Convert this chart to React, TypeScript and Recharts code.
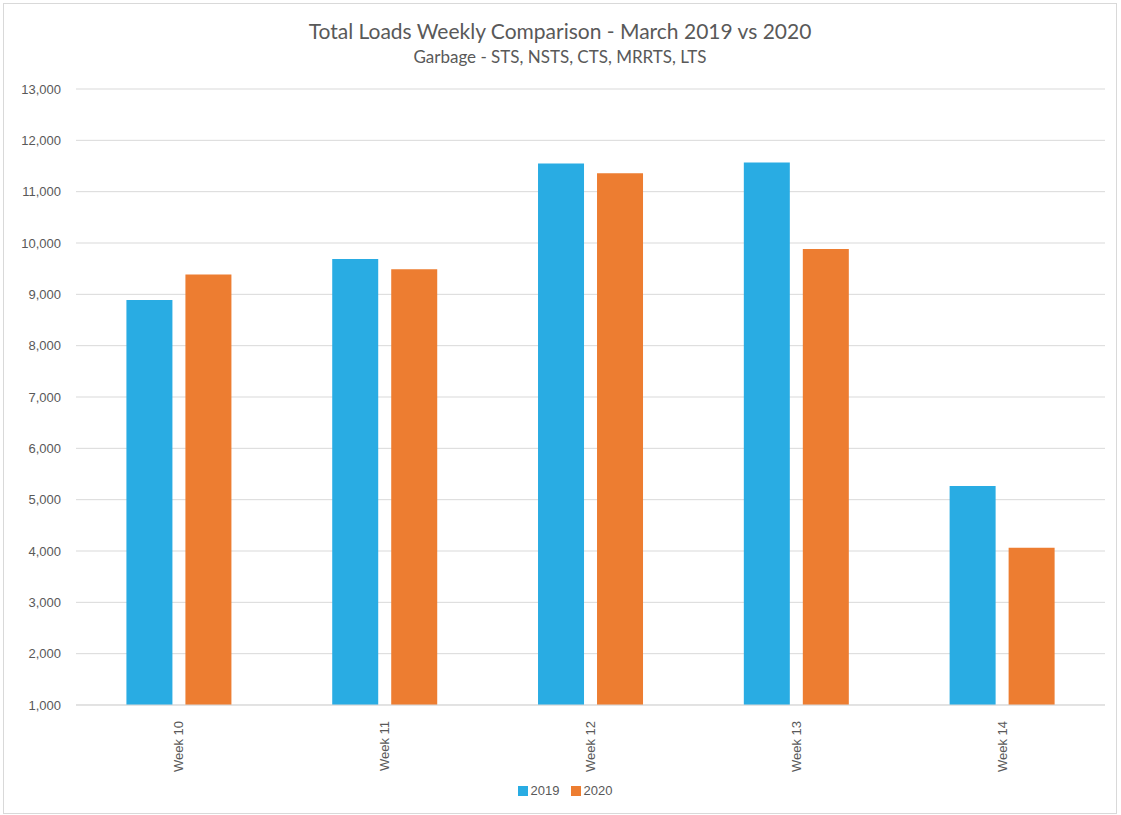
import React from "react";
import { BarChart, Bar, XAxis, YAxis, CartesianGrid } from "recharts";

const weeks = ["Week 10", "Week 11", "Week 12", "Week 13", "Week 14"];
const loads2019 = [8890, 9690, 11550, 11570, 5265];
const loads2020 = [9385, 9490, 11360, 9885, 4065];
const yTicks = [1000, 2000, 3000, 4000, 5000, 6000, 7000, 8000, 9000, 10000, 11000, 12000, 13000];
const seriesNames = ["2019", "2020"];
const colors = ["#29ACE3", "#ED7D31"];

const data = weeks.map((w, i) => ({ week: w, y2019: loads2019[i], y2020: loads2020[i] }));

const FONT = "'Liberation Sans', Arial, sans-serif";
const TEXT = "#595959";

const XTick = (props: any) => {
  const { x, y, payload } = props;
  return (
    <text
      x={0}
      y={0}
      transform={`translate(${x + 4.5},${y + 8}) rotate(-90)`}
      textAnchor="end"
      fill={TEXT}
      fontSize={13}
      fontFamily={FONT}
    >
      {payload.value}
    </text>
  );
};

export default function App() {
  const W = 1114;
  const H = 811;
  return (
    <div
      style={{
        position: "absolute",
        left: 3,
        top: 3,
        width: W - 2,
        height: H - 2,
        border: "1px solid #d9d9d9",
        background: "#fff",
        fontFamily: FONT,
      }}
    >
      <div
        style={{
          position: "absolute",
          top: 14,
          left: 0,
          width: "100%",
          textAlign: "center",
          fontSize: 21,
          color: TEXT,
          fontFamily: "Lato, sans-serif",
        }}
      >
        Total Loads Weekly Comparison - March 2019 vs 2020
      </div>
      <div
        style={{
          position: "absolute",
          top: 42,
          left: 0,
          width: "100%",
          textAlign: "center",
          fontSize: 17,
          color: TEXT,
          fontFamily: "Lato, sans-serif",
        }}
      >
        Garbage - STS, NSTS, CTS, MRRTS, LTS
      </div>
      <div style={{ position: "absolute", left: -1, top: -1 }}>
        <BarChart
          width={W}
          height={H}
          data={data}
          margin={{ top: 86, right: 12, left: 0, bottom: 51 }}
          barCategoryGap="24.5%"
          barGap={13}
        >
          <CartesianGrid vertical={false} stroke="#d9d9d9" strokeWidth={1} />
          <YAxis
            width={73}
            domain={[1000, 13000]}
            ticks={yTicks}
            interval={0}
            axisLine={false}
            tickLine={false}
            tickSize={0}
            tickMargin={15}
            tickFormatter={(v: number) => v.toLocaleString("en-US")}
            tick={{ fill: TEXT, fontSize: 13, fontFamily: FONT }}
          />
          <XAxis
            dataKey="week"
            height={58}
            axisLine={{ stroke: "#d9d9d9" }}
            tickLine={false}
            interval={0}
            tick={<XTick />}
          />
          <Bar dataKey="y2019" name={seriesNames[0]} fill={colors[0]} isAnimationActive={false} />
          <Bar dataKey="y2020" name={seriesNames[1]} fill={colors[1]} isAnimationActive={false} />
        </BarChart>
      </div>
      <div
        style={{
          position: "absolute",
          top: 779,
          left: 5,
          width: "100%",
          display: "flex",
          justifyContent: "center",
          fontSize: 13,
          color: TEXT,
          fontFamily: FONT,
        }}
      >
        {seriesNames.map((n, i) => (
          <div key={n} style={{ display: "flex", alignItems: "center", marginRight: i === 0 ? 11 : 0 }}>
            <span style={{ display: "inline-block", width: 10, height: 10, background: colors[i], marginRight: 3 }} />
            <span>{n}</span>
          </div>
        ))}
      </div>
    </div>
  );
}
